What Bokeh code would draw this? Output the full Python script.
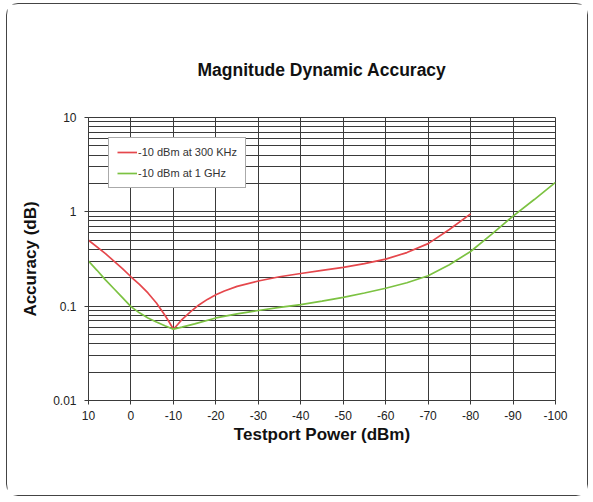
from bokeh.plotting import figure
from bokeh.models import Range1d, FixedTicker, CustomJSTickFormatter, Legend, LegendItem
from bokeh.embed import file_html
from bokeh.resources import INLINE

title_text = "Magnitude Dynamic Accuracy"
x_label = "Testport Power (dBm)"
y_label = "Accuracy (dB)"

x_ticks = [10, 0, -10, -20, -30, -40, -50, -60, -70, -80, -90, -100]
y_ticks = [0.01, 0.1, 1, 10]

red_name = "-10 dBm at 300 KHz"
red_x = [10, 6, 2, 0, -2, -4, -6, -8, -9, -10, -11, -12, -14, -16, -18, -20, -22, -25,
         -30, -35, -40, -45, -50, -55, -60, -65, -70, -75, -80]
red_y = [0.50, 0.36, 0.25, 0.205, 0.17, 0.138, 0.108, 0.08, 0.068, 0.057, 0.064, 0.072,
         0.087, 0.103, 0.118, 0.132, 0.145, 0.162, 0.185, 0.205, 0.222, 0.24, 0.258,
         0.283, 0.315, 0.37, 0.46, 0.65, 0.95]

green_name = "-10 dBm at 1 GHz"
green_x = [10, 8, 6, 4, 2, 0, -2, -4, -6, -8, -10, -12, -15, -20, -25, -30, -35, -40,
           -45, -50, -55, -60, -65, -70, -75, -80, -85, -90, -95, -100]
green_y = [0.30, 0.24, 0.19, 0.153, 0.123, 0.099, 0.085, 0.075, 0.068, 0.062, 0.057,
           0.06, 0.065, 0.075, 0.083, 0.09, 0.097, 0.104, 0.113, 0.124, 0.138, 0.155,
           0.177, 0.21, 0.275, 0.38, 0.58, 0.9, 1.35, 2.05]

FONT = "Liberation Sans"
GRID = "#3a3a3a"

p = figure(width=582, height=493, output_backend="svg", toolbar_location=None,
           x_range=Range1d(10, -100), y_range=Range1d(0.01, 10), y_axis_type="log",
           min_border_left=81, min_border_right=34, min_border_top=113, min_border_bottom=97)
p.styles = {"border": "1px solid #444", "border-radius": "12px",
            "margin-left": "6px", "margin-top": "3px"}

p.title.text = title_text
p.title.align = "center"
p.title.text_font = FONT
p.title.text_font_size = "17.5px"
p.title.text_font_style = "bold"
p.title.text_color = "#111"
p.title.standoff = 75

p.outline_line_color = GRID
p.outline_line_width = 1

p.xaxis.ticker = FixedTicker(ticks=x_ticks)
p.xaxis.formatter = CustomJSTickFormatter(code="return tick.toString()")
minor = [m * t for t in y_ticks[:-1] for m in range(2, 10)]
p.yaxis.ticker = FixedTicker(ticks=y_ticks, minor_ticks=minor)
p.yaxis.formatter = CustomJSTickFormatter(code="return tick.toString()")

for ax in (p.xaxis[0], p.yaxis[0]):
    ax.axis_line_color = GRID
    ax.major_tick_line_color = GRID
    ax.major_tick_out = 4
    ax.major_tick_in = 0
    ax.minor_tick_out = 0
    ax.minor_tick_in = 0
    ax.major_label_text_font = FONT
    ax.major_label_text_font_size = "12px"
    ax.major_label_text_color = "#222"
    ax.axis_label_text_font = FONT
    ax.axis_label_text_font_size = "17px"
    ax.axis_label_text_font_style = "bold"
    ax.axis_label_text_color = "#111"

p.xaxis.axis_label = x_label
p.yaxis.axis_label = y_label
p.xaxis.major_label_standoff = 6
p.xaxis.axis_label_standoff = 2
p.yaxis.major_label_standoff = 8
p.yaxis.axis_label_standoff = 10

p.xgrid.grid_line_color = GRID
p.xgrid.grid_line_width = 1
p.ygrid.grid_line_color = GRID
p.ygrid.minor_grid_line_color = GRID
p.ygrid.grid_line_width = 1

r1 = p.line(red_x, red_y, line_color="#e5474c", line_width=1.7)
r2 = p.line(green_x, green_y, line_color="#7cc242", line_width=1.7)

legend = Legend(items=[LegendItem(label=red_name, renderers=[r1]),
                       LegendItem(label=green_name, renderers=[r2])],
                location=(20, 212), orientation="vertical")
legend.border_line_color = "#555"
legend.border_line_width = 1
legend.background_fill_color = "white"
legend.background_fill_alpha = 1
legend.label_text_font = FONT
legend.label_text_font_size = "11px"
legend.label_text_color = "#333"
legend.glyph_width = 20
legend.glyph_height = 12
legend.label_standoff = 1
legend.spacing = 9
legend.padding = 8
legend.margin = 0
legend.label_height = 12
p.add_layout(legend, "center")

open("out.html", "w").write(file_html(p, INLINE))
